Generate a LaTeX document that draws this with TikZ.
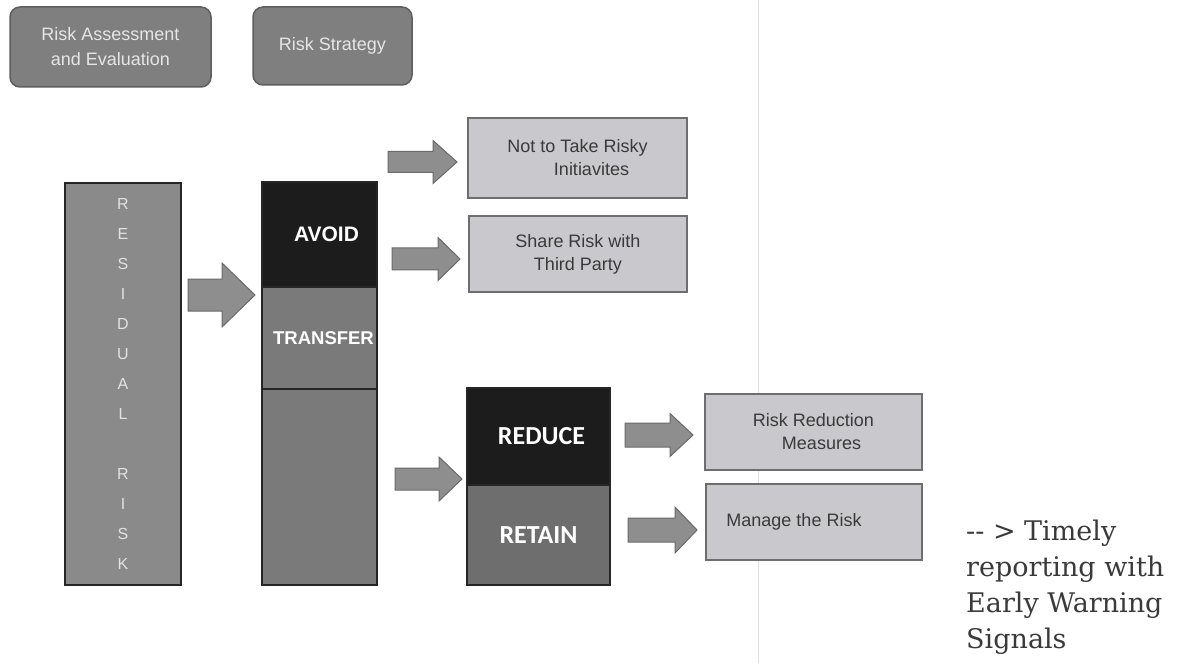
\documentclass[tikz,border=0pt]{standalone}
\usepackage{fontspec}
\newfontfamily\arialfont{Liberation Sans}
\newfontfamily\calibrifont{Carlito}
\newfontfamily\seriffont{DejaVu Serif}
\definecolor{topgray}{HTML}{7F7F7F}
\definecolor{topedge}{HTML}{5E5E5E}
\definecolor{toptext}{HTML}{E6E6E6}
\definecolor{residgray}{HTML}{8A8A8A}
\definecolor{midgray}{HTML}{7A7A7A}
\definecolor{retaingray}{HTML}{6E6E6E}
\definecolor{nearblack}{HTML}{1C1C1C}
\definecolor{darkedge}{HTML}{262626}
\definecolor{lettergray}{HTML}{E2E2E2}
\definecolor{litegray}{HTML}{C9C9CD}
\definecolor{liteedge}{HTML}{6E6E6E}
\definecolor{litetext}{HTML}{3A3A3A}
\definecolor{arrowgray}{HTML}{8E8E8E}
\definecolor{arrowedge}{HTML}{6A6A6A}
\definecolor{serifgray}{HTML}{3A3A3A}
\definecolor{scangray}{HTML}{DCDCDC}
\newcommand{\fatarrow}[6]{%
  \draw [fatarrow] (#1,#4-#5) -- (#2,#4-#5) -- (#2,#4-#6) -- (#3,#4)
    -- (#2,#4+#6) -- (#2,#4+#5) -- (#1,#4+#5) -- cycle;}
\begin{document}
\begin{tikzpicture}[x=1pt,y=-1pt,
  topbox/.style={rounded corners=10pt, draw=topedge, line width=1.5pt, fill=topgray, text=toptext, align=center, font=\arialfont\fontsize{18pt}{25pt}\selectfont},
  barbox/.style={draw=darkedge, line width=2pt, inner sep=0pt, text=white},
  bigword/.style={font=\arialfont\bfseries\fontsize{21pt}{24pt}\selectfont},
  calword/.style={font=\calibrifont\bfseries\fontsize{26pt}{28pt}\selectfont},
  litebox/.style={draw=liteedge, line width=1.5pt, fill=litegray, text=litetext, align=center, font=\arialfont\fontsize{18pt}{23pt}\selectfont},
  fatarrow/.style={draw=arrowedge, line width=1pt, fill=arrowgray}]
\useasboundingbox (0,0) rectangle (1181,663);
\draw [scangray, line width=1pt] (758,0) -- (758,663);
\node [topbox, minimum width=201pt, minimum height=80pt] (assess) at (110.5,47) {Risk Assessment\\and Evaluation};
\node [topbox, minimum width=159pt, minimum height=78pt] (strategy) at (332.5,46) {Risk Strategy};
\node [barbox, fill=residgray, minimum width=116pt, minimum height=402pt, text=lettergray, align=center, font=\arialfont\fontsize{16pt}{30pt}\selectfont] (resid) at (123,384) {R\\E\\S\\I\\D\\U\\A\\L\\[30pt]R\\I\\S\\K};
\node [barbox, bigword, fill=nearblack, minimum width=115pt, minimum height=105pt] (avoid) at (319.5,234.5) {\hspace*{14pt}AVOID};
\node [barbox, bigword, fill=midgray, minimum width=115pt, minimum height=102pt, font=\arialfont\bfseries\fontsize{18.5pt}{22pt}\selectfont] (transfer) at (319.5,338) {\hspace*{8pt}TRANSFER};
\node [barbox, fill=midgray, minimum width=115pt, minimum height=196pt] (stratlow) at (319.5,487) {};
\node [barbox, calword, fill=nearblack, minimum width=143pt, minimum height=97pt] (reduce) at (538.5,436.5) {\hspace*{6pt}REDUCE};
\node [barbox, calword, fill=retaingray, minimum width=143pt, minimum height=100pt] (retain) at (538.5,535) {RETAIN};
\node [litebox, minimum width=219pt, minimum height=80pt] (nottake) at (577.5,158) {Not to Take Risky\\\hspace*{28pt}Initiavites};
\node [litebox, minimum width=218pt, minimum height=76pt] (share) at (578,254) {Share Risk with\\Third Party};
\node [litebox, minimum width=217pt, minimum height=76pt] (reduction) at (813.5,432) {Risk Reduction\\\hspace*{16pt}Measures};
\node [litebox, minimum width=216pt, minimum height=76pt] (manage) at (814,522) {Manage the Risk\hspace*{40pt}};
\node [anchor=base west, align=left, inner sep=0pt, text=serifgray, font=\seriffont\fontsize{27pt}{36pt}\selectfont] (signals) at (966,648) {-{}- > Timely\\reporting with\\Early Warning\\Signals};
\fatarrow{188}{222}{255}{295}{16}{32}
\fatarrow{388}{433}{457}{162}{10.5}{21.5}
\fatarrow{392}{438}{460}{259}{11}{21.5}
\fatarrow{395}{439}{462}{479}{11}{22}
\fatarrow{625}{670}{693}{435}{12}{21.5}
\fatarrow{628}{675}{697}{530}{12}{23}
\end{tikzpicture}
\end{document}
